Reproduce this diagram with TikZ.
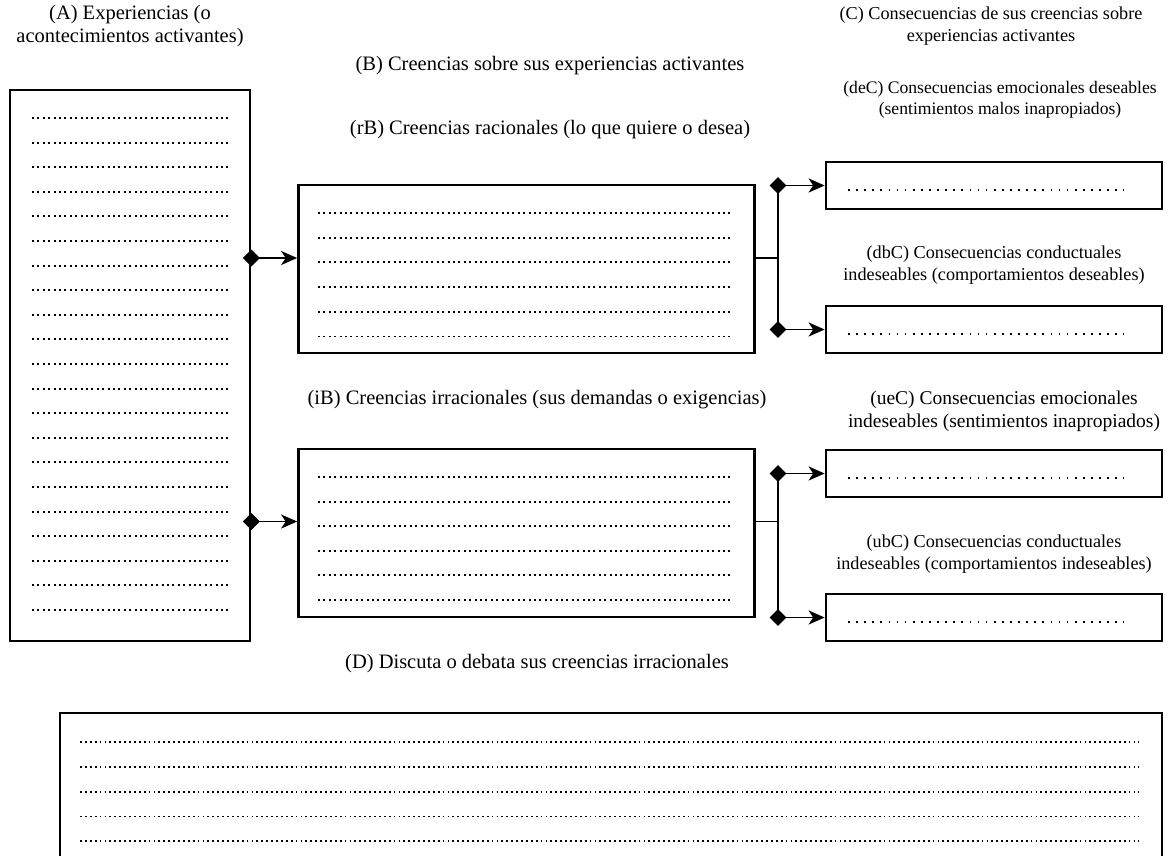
\documentclass[tikz,border=0pt]{standalone}
\usepackage{fontspec}
\setmainfont{Liberation Serif}
\usetikzlibrary{arrows.meta,shapes.geometric}
\newcommand\fbig{\fontsize{20.5}{23}\selectfont}
\newcommand\fmidd{\fontsize{19.5}{23}\selectfont}
\newcommand\fsml{\fontsize{18.2}{22}\selectfont}
\newcommand\fsmll{\fontsize{17.6}{21}\selectfont}
\begin{document}
\begin{tikzpicture}[x=1pt,y=-1pt,
  box/.style={draw, line width=2.7pt, inner sep=0pt, fill=white},
  dots/.style={line width=1.9pt, dash pattern=on 1.9pt off 3.5pt},
  dotsC/.style={line width=1.7pt, dash pattern=on 1.7pt off 6.4pt},
  dotsD/.style={line width=1.8pt, dash pattern=on 1.8pt off 3.1pt},
  dia/.style={diamond, fill=black, inner sep=0pt, minimum width=17pt, minimum height=17pt},
  conn/.style={line width=1.9pt},
  arr/.style={line width=1.9pt, -{Stealth[length=16pt,width=14pt,inset=4.5pt]}},
  lab/.style={align=center, inner sep=0pt}]
\useasboundingbox (0,0) rectangle (1174,855);
\fill[white] (0,0) rectangle (1174,855);

% boxes
\node[box, minimum width=240pt, minimum height=551pt] (A) at (130,365.5) {};
\node[box, minimum width=456pt, minimum height=168pt] (rB) at (526.5,269) {};
\node[box, minimum width=456pt, minimum height=168pt] (iB) at (526.5,533) {};
\node[box, minimum width=336pt, minimum height=47pt] (deC) at (994,185.5) {};
\node[box, minimum width=336pt, minimum height=47pt] (dbC) at (994,329.5) {};
\node[box, minimum width=336pt, minimum height=47pt] (ueC) at (994,473.5) {};
\node[box, minimum width=336pt, minimum height=47pt] (ubC) at (994,617.5) {};
\node[box, minimum width=1102pt, minimum height=170pt] (D) at (611,798) {};

% dotted writing lines
\foreach \k in {0,...,20} \draw[dots] (32,{118+24.6*\k}) -- (228,{118+24.6*\k});
\foreach \k in {0,...,5} \draw[dots] (318,{213+24.7*\k}) -- (730,{213+24.7*\k});
\foreach \k in {0,...,5} \draw[dots] (318,{477+24.6*\k}) -- (730,{477+24.6*\k});
\foreach \n in {deC,dbC,ueC,ubC} \draw[dotsC] ([yshift=-4.5pt]\n.center -| 848,0) -- ([yshift=-4.5pt]\n.center -| 1124,0);
\foreach \k in {0,...,4} \draw[dotsD] (80,{742+24.8*\k}) -- (1139,{742+24.8*\k});

% connectors from A
\node[dia] (d1) at (A.east |- 0,258) {};
\node[dia] (d2) at (A.east |- 0,521.5) {};
\draw[arr] (d1.center) -- (rB.west |- d1);
\draw[arr] (d2.center) -- (iB.west |- d2);

% connectors from rB
\coordinate (m1) at (778,258);
\node[dia] (d3) at (m1 |- deC) {};
\node[dia] (d4) at (m1 |- dbC) {};
\draw[conn] (rB.east |- m1) -- (m1);
\draw[conn] (d3.center) -- (d4.center);
\draw[arr] (d3.center) -- (deC.west);
\draw[arr] (d4.center) -- (dbC.west);

% connectors from iB
\coordinate (m2) at (778,521.5);
\node[dia] (d5) at (m2 |- ueC) {};
\node[dia] (d6) at (m2 |- ubC) {};
\draw[conn] (iB.east |- m2) -- (m2);
\draw[conn] (d5.center) -- (d6.center);
\draw[arr] (d5.center) -- (ueC.west);
\draw[arr] (d6.center) -- (ubC.west);

% labels
\node[lab, font=\fbig] (labA) at (130,26) {(A) Experiencias (o\\acontecimientos activantes)};
\node[lab, font=\fbig] (labB) at (550,66) {(B) Creencias sobre sus experiencias activantes};
\node[lab, font=\fbig] (labrB) at (550,130) {(rB) Creencias racionales (lo que quiere o desea)};
\node[lab, font=\fbig] (labiB) at (537,400) {(iB) Creencias irracionales (sus demandas o exigencias)};
\node[lab, font=\fbig] (labD) at (537,664) {(D) Discuta o debata sus creencias irracionales};
\node[lab, font=\fsml] (labC) at (991,26) {(C) Consecuencias de sus creencias sobre\\experiencias activantes};
\node[lab, font=\fsmll] (labdeC) at (1000,100) {(deC) Consecuencias emocionales deseables\\(sentimientos malos inapropiados)};
\node[lab, font=\fsml] (labdbC) at (994,265.5) {(dbC) Consecuencias conductuales\\indeseables (comportamientos deseables)};
\node[lab, font=\fmidd] (labueC) at (1004,411.5) {(ueC) Consecuencias emocionales\\indeseables (sentimientos inapropiados)};
\node[lab, font=\fsml] (labubC) at (994,554.5) {(ubC) Consecuencias conductuales\\indeseables (comportamientos indeseables)};
\end{tikzpicture}
\end{document}
